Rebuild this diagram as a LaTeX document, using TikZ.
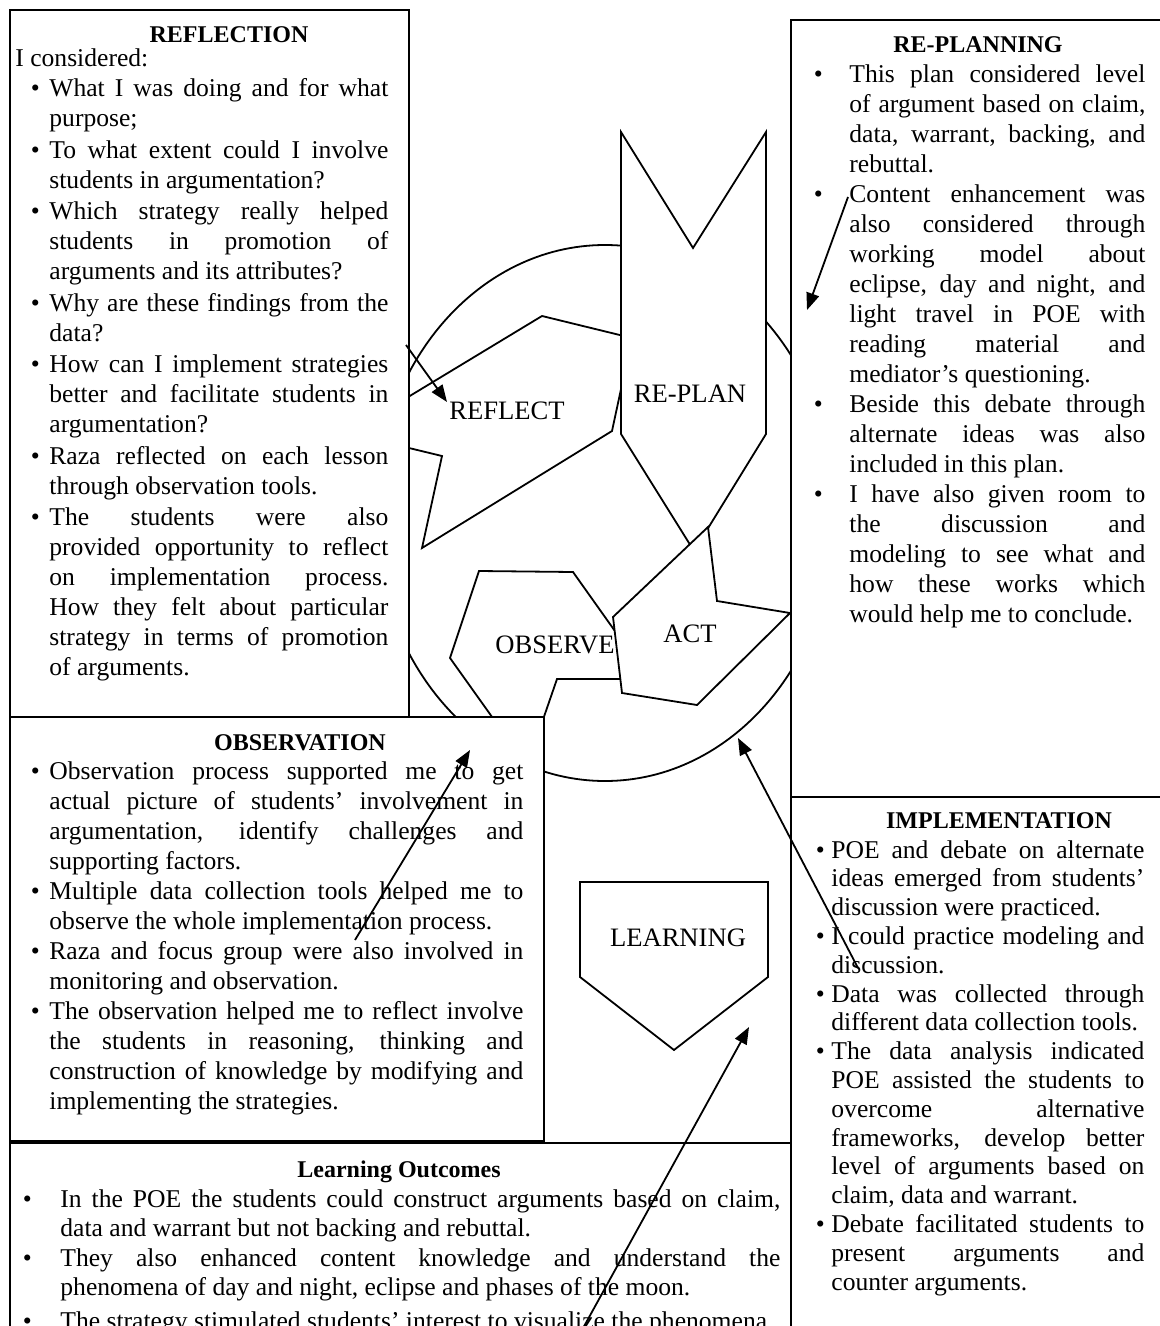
\documentclass[tikz,border=0pt]{standalone}
\usepackage{fontspec}
\setmainfont{Liberation Serif}
\usetikzlibrary{arrows.meta}
\newcommand\jline[1]{\hbox to\hsize{#1}}
\newcommand\lline[1]{\hbox{#1}}
\newcommand\bul[1]{\llap{\makebox[0pt]{\textbullet}\hspace{#1}}}
\newcommand\isep{\vskip0.75pt}
\newcommand\tblock[3]{\vtop{\hsize=#1\baselineskip=#2\lineskiplimit=-20pt\parindent=0pt\relax #3}}
\begin{document}
\begin{tikzpicture}[x=0.5pt,y=-0.5pt,line join=miter,
  shp/.style={draw=black,fill=white,line width=0.9pt},
  boxst/.style={draw=black,fill=white,line width=1pt},
  lbl/.style={font=\fontsize{13.3}{15}\selectfont,inner sep=0pt,anchor=base},
  hdr/.style={font=\fontsize{12}{15}\selectfont\bfseries,inner sep=0pt,anchor=base},
  body/.style={font=\fontsize{12.8}{15}\selectfont,inner sep=0pt,anchor=base west},
  arr/.style={-{Triangle[length=8.5pt,width=6.5pt]},line width=0.9pt}]
\useasboundingbox (0,0) rectangle (1160,1326);
\fill[white] (0,0) rectangle (1160,1326);
% cycle
\draw[shp] (605,513) ellipse [x radius=115pt, y radius=134pt];
\draw[shp] (542,316) -- (632,338) -- (612,431) -- (422,548) -- (442,456) -- (380,441) -- (380,414) -- cycle;
\draw[shp] (621,132) -- (693,248) -- (766,132) -- (766,434) -- (694,551) -- (621,434) -- cycle;
\draw[shp] (479,571) -- (573,572) -- (649,679) -- (557,679) -- (527,766) -- (450,658) -- cycle;
\draw[shp] (708,527) -- (717,601) -- (790,613) -- (697,705) -- (622,693) -- (613,617) -- cycle;
\draw[shp] (580,882) -- (768,882) -- (768,977) -- (674,1050) -- (580,977) -- cycle;
\node[lbl] (reflect) at (507,419) {REFLECT};
\node[lbl] (replan) at (690,402) {RE-PLAN};
\node[lbl] (observe) at (555,653) {OBSERVE};
\node[lbl] (act) at (690,642) {ACT};
\node[lbl] (learning) at (678,946) {LEARNING};
% boxes
\draw[boxst] (10,10) rectangle (409,717);
\draw[boxst] (791,20) rectangle (1166,797);
\draw[boxst] (10,717) rectangle (544,1141);
\draw[boxst] (791,797) rectangle (1166,1336);
\draw[boxst] (10,1143) rectangle (791,1336);
% REFLECTION
\node[hdr] (reflH) at (229,43) {REFLECTION};
\node[body] (reflI) at (15,67) {I considered:};
\node[body] (reflB) at (49,97) {\tblock{169.5pt}{15pt}{%
\jline{\bul{7pt}What I was doing and for what}
\lline{purpose;}\isep
\jline{\bul{7pt}To what extent could I involve}
\lline{students in argumentation?}\isep
\jline{\bul{7pt}Which strategy really helped}
\jline{students in promotion of}
\lline{arguments and its attributes?}\isep
\jline{\bul{7pt}Why are these findings from the}
\lline{data?}\isep
\jline{\bul{7pt}How can I implement strategies}
\jline{better and facilitate students in}
\lline{argumentation?}\isep
\jline{\bul{7pt}Raza reflected on each lesson}
\lline{through observation tools.}\isep
\jline{\bul{7pt}The students were also}
\jline{provided opportunity to reflect}
\jline{on implementation process.}
\jline{How they felt about particular}
\jline{strategy in terms of promotion}
\lline{of arguments.}}};
% RE-PLANNING
\node[hdr] (planH) at (978,53) {RE-PLANNING};
\node[body] (planB) at (849,83) {\tblock{148pt}{15pt}{%
\jline{\bul{15.5pt}This plan considered level}
\jline{of argument based on claim,}
\jline{data, warrant, backing, and}
\lline{rebuttal.}
\jline{\bul{15.5pt}Content enhancement was}
\jline{also considered through}
\jline{working model about}
\jline{eclipse, day and night, and}
\jline{light travel in POE with}
\jline{reading material and}
\lline{mediator's questioning.}
\jline{\bul{15.5pt}Beside this debate through}
\jline{alternate ideas was also}
\lline{included in this plan.}
\jline{\bul{15.5pt}I have also given room to}
\jline{the discussion and}
\jline{modeling to see what and}
\jline{how these works which}
\lline{would help me to conclude.}}};
% OBSERVATION
\node[hdr] (obsH) at (300,750) {OBSERVATION};
\node[body] (obsB) at (49,779) {\tblock{237pt}{15pt}{%
\jline{\bul{7pt}Observation process supported me to get}
\jline{actual picture of students' involvement in}
\jline{argumentation, identify challenges and}
\lline{supporting factors.}
\jline{\bul{7pt}Multiple data collection tools helped me to}
\lline{observe the whole implementation process.}
\jline{\bul{7pt}Raza and focus group were also involved in}
\lline{monitoring and observation.}
\jline{\bul{7pt}The observation helped me to reflect involve}
\jline{the students in reasoning, thinking and}
\jline{construction of knowledge by modifying and}
\lline{implementing the strategies.}}};
% IMPLEMENTATION
\node[hdr] (impH) at (999,828) {IMPLEMENTATION};
\node[body] (impB) at (831,858) {\tblock{156.5pt}{14.4pt}{%
\jline{\bul{5.5pt}POE and debate on alternate}
\jline{ideas emerged from students'}
\lline{discussion were practiced.}
\jline{\bul{5.5pt}I could practice modeling and}
\lline{discussion.}
\jline{\bul{5.5pt}Data was collected through}
\lline{different data collection tools.}
\jline{\bul{5.5pt}The data analysis indicated}
\jline{POE assisted the students to}
\jline{overcome alternative}
\jline{frameworks, develop better}
\jline{level of arguments based on}
\lline{claim, data and warrant.}
\jline{\bul{5.5pt}Debate facilitated students to}
\jline{present arguments and}
\lline{counter arguments.}}};
% LEARNING OUTCOMES
\node[hdr] (loH) at (399,1177) {Learning Outcomes};
\node[body] (loB) at (60,1207) {\tblock{360pt}{14.75pt}{%
\jline{\bul{16.5pt}In the POE the students could construct arguments based on claim,}
\lline{data and warrant but not backing and rebuttal.}
\jline{\bul{16.5pt}They also enhanced content knowledge and understand the}
\lline{phenomena of day and night, eclipse and phases of the moon.}\vskip2pt
\lline{\bul{16.5pt}The strategy stimulated students' interest to visualize the phenomena}}};
% arrows
\coordinate (a1s) at (406,345); \coordinate (a1e) at (447,402);
\coordinate (a2s) at (848,197); \coordinate (a2e) at (807,310);
\coordinate (a3s) at (355,940); \coordinate (a3e) at (470,750);
\coordinate (a4s) at (858,968); \coordinate (a4e) at (738,738);
\coordinate (a5s) at (582,1330); \coordinate (a5e) at (749,1027);
\draw[arr] (a1s) -- (a1e);
\draw[arr] (a2s) -- (a2e);
\draw[arr] (a3s) -- (a3e);
\draw[arr] (a4s) -- (a4e);
\draw[arr] (a5s) -- (a5e);
\end{tikzpicture}
\end{document}
